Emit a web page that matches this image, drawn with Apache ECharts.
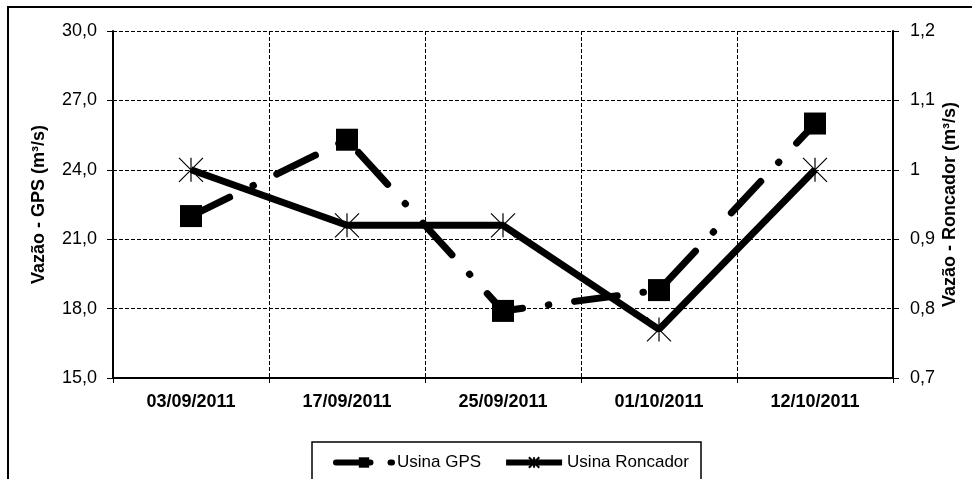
<!DOCTYPE html>
<html>
<head>
<meta charset="utf-8">
<script src="https://cdn.jsdelivr.net/npm/echarts@6/dist/echarts.min.js"></script>
<style>html,body{margin:0;padding:0;background:#fff;}#c{width:972px;height:479px;}</style>
</head>
<body>
<div id="c"></div>
<script>
const categories = ['03/09/2011', '17/09/2011', '25/09/2011', '01/10/2011', '12/10/2011'];
const gpsValues = [22.0, 25.3, 17.9, 18.8, 26.0];
const roncadorValues = [1.0, 0.92, 0.92, 0.77, 1.0];
const seriesNames = ['Usina GPS', 'Usina Roncador'];
const leftAxisName = 'Vazão - GPS (m³/s)';
const rightAxisName = 'Vazão - Roncador (m³/s)';

const FONT = 'Liberation Sans, Arial, sans-serif';
const star = 'path://M0,0L24,24M24,0L0,24M12,0L12,24';
const gpsDash = [43, 26, 0.5, 26];

const chart = echarts.init(document.getElementById('c'), null, {renderer: 'canvas'});
chart.setOption({
  animation: false,
  backgroundColor: '#fff',
  color: ['#000', '#000'],
  textStyle: {fontFamily: FONT, color: '#000'},
  graphic: [
    {type: 'rect', z: -10, shape: {x: 8, y: 7, width: 990, height: 500},
     style: {fill: 'none', stroke: '#000', lineWidth: 2}},
    {type: 'rect', z: -10, shape: {x: 312, y: 442, width: 389, height: 60},
     style: {fill: '#fff', stroke: '#000', lineWidth: 1.5}}
  ],
  grid: {left: 113, right: 79, top: 31, bottom: 101, containLabel: false},
  legend: {
    left: 328, top: 449,
    itemWidth: 56, itemHeight: 13, itemGap: 22,
    textStyle: {fontSize: 17, fontFamily: FONT, color: '#000'},
    data: [
      {name: seriesNames[0], lineStyle: {width: 6, type: [22, 12, 0.5, 20], cap: 'round', color: '#000'}},
      {name: seriesNames[1], lineStyle: {width: 6, type: 'solid', color: '#000'}}
    ]
  },
  xAxis: {
    type: 'category',
    data: categories,
    boundaryGap: true,
    axisLine: {lineStyle: {color: '#000', width: 2}},
    axisTick: {show: true, length: 5, lineStyle: {color: '#000', width: 1}},
    axisLabel: {fontSize: 18, fontWeight: 'bold', color: '#000', margin: 15, fontFamily: FONT},
    splitLine: {show: true, lineStyle: {color: '#000', width: 1, type: [4, 2]}}
  },
  yAxis: [
    {
      type: 'value', min: 15, max: 30, interval: 3, position: 'left',
      name: leftAxisName, nameLocation: 'middle', nameGap: 65, nameMoveOverlap: false,
      nameTextStyle: {fontSize: 18, fontWeight: 'bold', color: '#000', fontFamily: FONT},
      axisLine: {show: true, lineStyle: {color: '#000', width: 2}},
      axisTick: {show: true, length: 6, lineStyle: {color: '#000', width: 1}},
      axisLabel: {fontSize: 18, color: '#000', margin: 16, fontFamily: FONT,
        formatter: v => v.toFixed(1).replace('.', ',')},
      splitLine: {show: true, lineStyle: {color: '#000', width: 1, type: [4, 2]}}
    },
    {
      type: 'value', min: 0.7, max: 1.2, interval: 0.1, position: 'right',
      name: rightAxisName, nameLocation: 'middle', nameGap: 48, nameMoveOverlap: false,
      nameTextStyle: {fontSize: 18, fontWeight: 'bold', color: '#000', fontFamily: FONT},
      axisLine: {show: true, lineStyle: {color: '#000', width: 2}},
      axisTick: {show: true, length: 6, lineStyle: {color: '#000', width: 1}},
      axisLabel: {fontSize: 18, color: '#000', margin: 17, fontFamily: FONT,
        formatter: v => (Math.abs(v - 1) < 1e-9 ? '1' : (Math.round(v * 10) / 10).toFixed(1).replace('.', ','))},
      splitLine: {show: false}
    }
  ],
  series: [
    {
      name: seriesNames[0], type: 'line', yAxisIndex: 0, data: gpsValues,
      symbol: 'rect', symbolSize: 22, showSymbol: true,
      lineStyle: {color: '#000', width: 7, type: gpsDash, cap: 'round'},
      itemStyle: {color: '#000'}, z: 3
    },
    {
      name: seriesNames[1], type: 'line', yAxisIndex: 1, data: roncadorValues,
      symbol: star, symbolSize: 24, showSymbol: true,
      lineStyle: {color: '#000', width: 7, type: 'solid', cap: 'butt'},
      itemStyle: {color: 'rgba(0,0,0,0)', borderColor: '#000', borderWidth: 1.2}, z: 4
    }
  ]
});
</script>
</body>
</html>
